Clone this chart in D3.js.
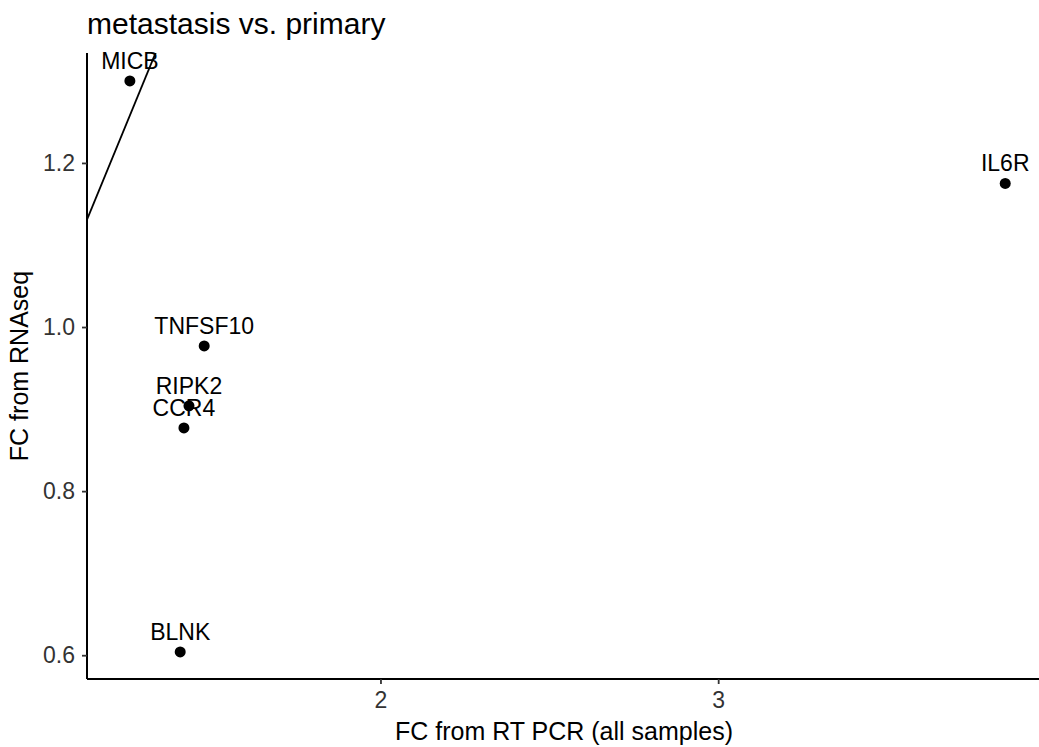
<!DOCTYPE html>
<html>
<head>
<meta charset="utf-8">
<script src="https://cdn.jsdelivr.net/npm/d3@7"></script>
<style>
  body { margin: 0; background: #fff; }
  text { font-family: "Liberation Sans", Arial, sans-serif; }
</style>
</head>
<body>
<svg id="chart"></svg>
<script>
const genes = ["MICB", "IL6R", "TNFSF10", "RIPK2", "CCR4", "BLNK"];
const fcPcr = [1.258, 3.85, 1.478, 1.433, 1.418, 1.407];
const fcRnaseq = [1.300, 1.175, 0.977, 0.904, 0.877, 0.604];
const xTicks = [2, 3];
const yTicks = [0.6, 0.8, 1.0, 1.2];

const width = 1039;
const height = 747;
const panelLeft = 87, panelRight = 1039, panelTop = 53, panelBottom = 679;

const svg = d3.select("#chart").attr("width", width).attr("height", height);

const x = d3.scaleLinear().domain([1.131, 3.95]).range([panelLeft, panelRight]);
const y = d3.scaleLinear().domain([0.571, 1.334]).range([panelBottom, panelTop]);

svg.append("clipPath").attr("id", "panel")
  .append("rect")
  .attr("x", panelLeft).attr("y", panelTop)
  .attr("width", panelRight - panelLeft).attr("height", panelBottom - panelTop);

// identity line y = x
const lo = x.domain()[0], hi = y.domain()[1];
svg.append("line")
  .attr("clip-path", "url(#panel)")
  .attr("x1", x(lo)).attr("y1", y(lo))
  .attr("x2", x(hi + 0.05)).attr("y2", y(hi + 0.05))
  .attr("stroke", "#000")
  .attr("stroke-width", 1.8);

const data = genes.map((g, i) => ({ gene: g, x: fcPcr[i], y: fcRnaseq[i] }));

svg.selectAll("circle.pt")
  .data(data)
  .enter()
  .append("circle")
  .attr("class", "pt")
  .attr("cx", (d) => x(d.x))
  .attr("cy", (d) => y(d.y))
  .attr("r", 5.5)
  .attr("fill", "#000");

svg.selectAll("text.lbl")
  .data(data)
  .enter()
  .append("text")
  .attr("class", "lbl")
  .attr("x", (d) => x(d.x))
  .attr("y", (d) => y(d.y) - 12)
  .attr("text-anchor", "middle")
  .attr("font-size", 23)
  .attr("fill", "#000")
  .text((d) => d.gene);

// axes
const xAxis = svg.append("g")
  .attr("transform", `translate(0, ${panelBottom})`)
  .call(d3.axisBottom(x).tickValues(xTicks).tickFormat(d3.format("d")).tickSize(5).tickPadding(8));
const yAxis = svg.append("g")
  .attr("transform", `translate(${panelLeft}, 0)`)
  .call(d3.axisLeft(y).tickValues(yTicks).tickFormat(d3.format(".1f")).tickSize(5).tickPadding(7));

[xAxis, yAxis].forEach((g) => {
  g.select(".domain").attr("stroke", "#000").attr("stroke-width", 2);
  g.selectAll(".tick line").attr("stroke", "#333").attr("stroke-width", 1.8);
  g.selectAll(".tick text").attr("font-size", 23).attr("fill", "#333")
    .attr("font-family", "Liberation Sans, Arial, sans-serif");
});
xAxis.select(".domain").attr("d", `M${panelLeft},0H${panelRight}`);
yAxis.select(".domain").attr("d", `M0,${panelTop}V${panelBottom}`);

svg.append("text")
  .attr("x", (panelLeft + panelRight) / 2 + 1)
  .attr("y", 740)
  .attr("text-anchor", "middle")
  .attr("font-size", 25)
  .text("FC from RT PCR (all samples)");

svg.append("text")
  .attr("transform", `translate(28, ${(panelTop + panelBottom) / 2}) rotate(-90)`)
  .attr("text-anchor", "middle")
  .attr("font-size", 25)
  .text("FC from RNAseq");

svg.append("text")
  .attr("x", panelLeft)
  .attr("y", 34)
  .attr("font-size", 30)
  .text("metastasis vs. primary");
</script>
</body>
</html>
